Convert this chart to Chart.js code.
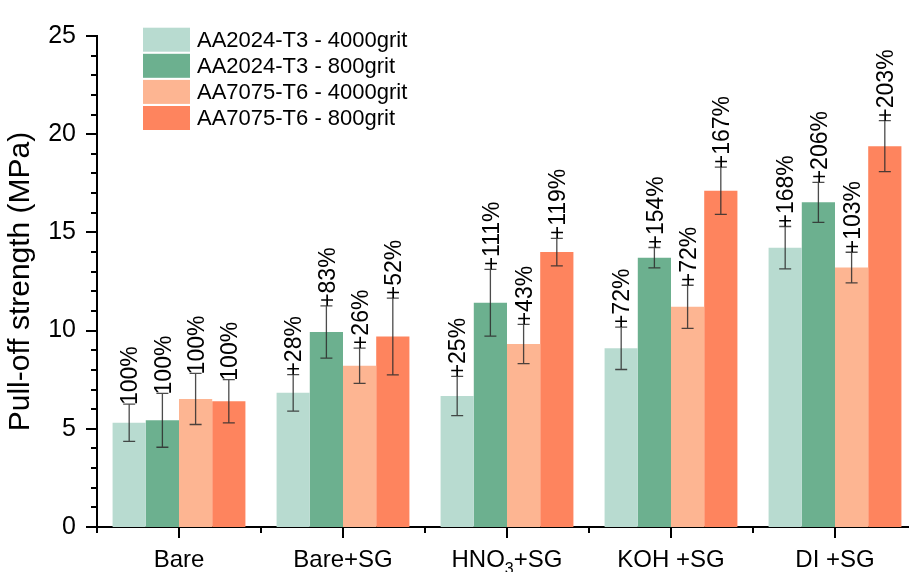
<!DOCTYPE html>
<html>
<head>
<meta charset="utf-8">
<script src="https://cdn.jsdelivr.net/npm/chart.js@4/dist/chart.umd.min.js"></script>
<style>
  html, body { margin: 0; padding: 0; background: #fff; overflow: hidden; width: 909px; height: 572px; }
  #wrap { position: absolute; left: 0; top: 0; width: 930px; height: 572px; }
</style>
</head>
<body>
<div id="wrap"><canvas id="c" width="930" height="572"></canvas></div>
<script>
// ---- data ----
const categories = ['Bare', 'Bare+SG', 'HNO₃+SG', 'KOH +SG', 'DI +SG'];
const seriesNames = ['AA2024-T3 - 4000grit', 'AA2024-T3 - 800grit', 'AA7075-T6 - 4000grit', 'AA7075-T6 - 800grit'];
const aa2024_4000 = [5.31, 6.83, 6.67, 9.10, 14.22];
const aa2024_800  = [5.43, 9.93, 11.42, 13.71, 16.53];
const aa7075_4000 = [6.52, 8.21, 9.32, 11.21, 13.21];
const aa7075_800  = [6.40, 9.70, 14.00, 17.12, 19.39];
const err2024_4000 = [0.95, 0.93, 1.00, 1.08, 1.08];
const err2024_800  = [1.37, 1.33, 1.70, 0.52, 1.02];
const err7075_4000 = [1.30, 0.90, 1.00, 1.10, 0.78];
const err7075_800  = [1.10, 1.95, 0.70, 1.20, 1.30];
const pct2024_4000 = ['100%', '+28%', '+25%', '+72%', '+168%'];
const pct2024_800  = ['100%', '+83%', '+111%', '+154%', '+206%'];
const pct7075_4000 = ['100%', '+26%', '+43%', '+72%', '+103%'];
const pct7075_800  = ['100%', '+52%', '+119%', '+167%', '+203%'];
const yTicks = [0, 5, 10, 15, 20, 25];

const colors = ['#b8dbd0', '#6cb08f', '#fdb592', '#fe845e'];
const values = [aa2024_4000, aa2024_800, aa7075_4000, aa7075_800];
const errors = [err2024_4000, err2024_800, err7075_4000, err7075_800];
const pcts = [pct2024_4000, pct2024_800, pct7075_4000, pct7075_800];

const FONT = '"Liberation Sans", Arial, Helvetica, sans-serif';

const overlay = {
  id: 'overlay',
  afterDatasetsDraw(chart) {
    const ctx = chart.ctx;
    const ys = chart.scales.y, xs = chart.scales.x;
    const area = chart.chartArea;
    ctx.save();
    // error bars
    values.forEach((vals, i) => {
      const meta = chart.getDatasetMeta(i);
      vals.forEach((v, j) => {
        const bar = meta.data[j];
        const x = bar.x;
        const yt = ys.getPixelForValue(v + errors[i][j]);
        const yb = ys.getPixelForValue(v - errors[i][j]);
        ctx.strokeStyle = 'rgba(45,45,45,0.85)';
        ctx.lineWidth = 1.3;
        ctx.beginPath();
        ctx.moveTo(x, yt); ctx.lineTo(x, yb);
        ctx.moveTo(x - 6, yt); ctx.lineTo(x + 6, yt);
        ctx.moveTo(x - 6, yb); ctx.lineTo(x + 6, yb);
        ctx.stroke();
        // percentage label
        const fs = 23;
        ctx.save();
        ctx.translate(x + fs * 0.36, yt + 1);
        ctx.rotate(-Math.PI / 2);
        ctx.font = fs + 'px ' + FONT;
        ctx.fillStyle = '#000';
        ctx.textAlign = 'left';
        ctx.textBaseline = 'alphabetic';
        ctx.fillText(pcts[i][j], 0, 0);
        ctx.restore();
      });
    });
    // axis ticks
    ctx.strokeStyle = '#000';
    ctx.lineWidth = 2;
    ctx.beginPath();
    for (let v = 0; v <= 25; v++) {
      const y = Math.round(ys.getPixelForValue(v));
      const len = (v % 5 === 0) ? 11 : 6;
      ctx.moveTo(area.left, y); ctx.lineTo(area.left - len, y);
    }
    const n = categories.length;
    const w = (area.right - area.left) / n;
    for (let k = 0; k <= n; k++) {
      const x = area.left + k * w;
      ctx.moveTo(x, area.bottom); ctx.lineTo(x, area.bottom + 6);
    }
    categories.forEach((c, k) => {
      const x = xs.getPixelForValue(k);
      ctx.moveTo(x, area.bottom); ctx.lineTo(x, area.bottom + 11);
    });
    ctx.stroke();
    // category labels (with subscript support)
    const subs = '₀₁₂₃₄₅₆₇₈₉';
    const mainFont = '24px ' + FONT, subFont = '16px ' + FONT;
    ctx.fillStyle = '#000';
    ctx.textBaseline = 'alphabetic';
    ctx.textAlign = 'left';
    categories.forEach((c, k) => {
      const parts = [];
      for (const ch of c) {
        const si = subs.indexOf(ch);
        if (si >= 0) parts.push({t: String(si), sub: true});
        else parts.push({t: ch, sub: false});
      }
      let total = 0;
      parts.forEach(p => { ctx.font = p.sub ? subFont : mainFont; p.w = ctx.measureText(p.t).width; total += p.w; });
      let x = xs.getPixelForValue(k) - total / 2;
      const base = 567;
      parts.forEach(p => {
        ctx.font = p.sub ? subFont : mainFont;
        ctx.fillText(p.t, x, p.sub ? base + 7 : base);
        x += p.w;
      });
    });
    // legend
    seriesNames.forEach((name, i) => {
      const top = 27.7 + i * 26.1;
      ctx.fillStyle = colors[i];
      ctx.fillRect(143, top, 47, 24);
      ctx.fillStyle = '#000';
      ctx.font = '22px ' + FONT;
      ctx.textBaseline = 'middle';
      ctx.fillText(name, 197, top + 13);
    });
    ctx.restore();
  }
};

new Chart(document.getElementById('c'), {
  type: 'bar',
  data: {
    labels: categories,
    datasets: seriesNames.map((name, i) => ({
      label: name,
      data: values[i],
      backgroundColor: colors[i],
      borderWidth: 0,
      categoryPercentage: 0.81,
      barPercentage: 1.0
    }))
  },
  options: {
    responsive: false,
    animation: false,
    devicePixelRatio: 1,
    layout: { padding: { top: 24, right: 13, bottom: 0, left: 0 } },
    plugins: { legend: { display: false }, tooltip: { enabled: false } },
    scales: {
      x: {
        grid: { display: false, drawTicks: false },
        border: { display: true, color: '#000', width: 2 },
        ticks: { display: false },
        afterFit(scale) { scale.height = 45; }
      },
      y: {
        min: 0, max: 25,
        afterBuildTicks(scale) { scale.ticks = yTicks.map(v => ({ value: v })); },
        grid: { display: false, drawTicks: false, tickLength: 0 },
        border: { display: true, color: '#000', width: 2 },
        ticks: { color: '#000', font: { family: FONT, size: 25 }, padding: 21 },
        title: {
          display: true, text: 'Pull-off strength (MPa)', color: '#000',
          font: { family: FONT, size: 30 }, padding: { top: 3, bottom: 4 }
        },
        afterFit(scale) { scale.width = 97; }
      }
    }
  },
  plugins: [overlay]
});
</script>
</body>
</html>
